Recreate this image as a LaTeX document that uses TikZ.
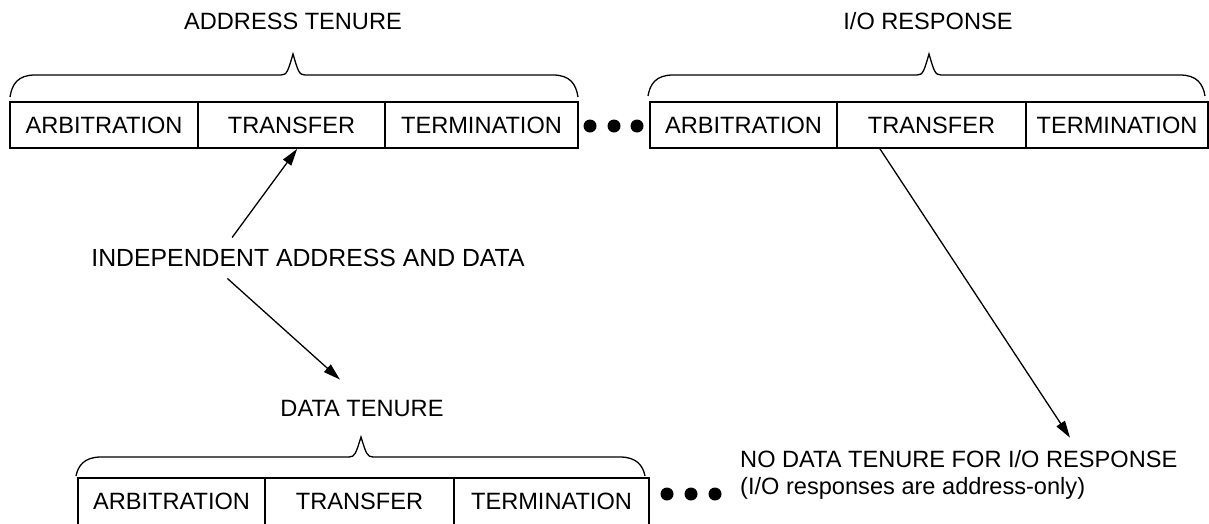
\documentclass[tikz,border=0pt]{standalone}
\usepackage{fontspec}
\setmainfont{Liberation Sans}
\usetikzlibrary{arrows.meta,calc}
\newcommand\tenbrace[6]{%
  \draw[brace] (#1,#4) .. controls ({#1+2},{#5+9}) and ({#1+8},#5) .. ({#1+25},#5)
    -- ({#3-12},#5) .. controls ({#3-6},#5) and ({#3-5},{#5-4}) .. (#3,#6)
    .. controls ({#3+5},{#5-4}) and ({#3+6},#5) .. ({#3+12},#5)
    -- ({#2-25},#5) .. controls ({#2-8},#5) and ({#2-2},{#5+9}) .. (#2,#4);}
\begin{document}
\begin{tikzpicture}[x=1pt,y=-1pt,
  txt/.style={font=\fontsize{23.6}{28}\selectfont},
  cell/.style={txt,draw,line width=1.8pt,minimum height=46pt,inner sep=0pt},
  lbl/.style={txt,inner sep=0pt},
  brace/.style={line width=1.3pt},
  arr/.style={line width=1.3pt,-{Triangle[length=17pt,width=10pt]}},
  dot/.style={circle,fill=black,inner sep=0pt,minimum size=13pt}]
\useasboundingbox (0,0) rectangle (1209,523);
% top left row
\node[cell,minimum width=188pt] (A1) at (104,125) {ARBITRATION};
\node[cell,minimum width=187pt] (T1) at (291.5,125) {TRANSFER};
\node[cell,minimum width=193pt] (E1) at (481.5,125) {TERMINATION};
% top right row
\node[cell,minimum width=187pt] (A2) at (743.5,125) {ARBITRATION};
\node[cell,minimum width=189pt] (T2) at (931.5,125) {TRANSFER};
\node[cell,minimum width=182pt] (E2) at (1117,125) {TERMINATION};
% bottom row
\node[cell,minimum width=187pt,minimum height=47pt] (A3) at (171.5,501.5) {ARBITRATION};
\node[cell,minimum width=189pt,minimum height=47pt] (T3) at (359.5,501.5) {TRANSFER};
\node[cell,minimum width=195pt,minimum height=47pt] (E3) at (551.5,501.5) {TERMINATION};
% dots
\node[dot] (d1) at (590,126) {};
\node[dot] (d2) at (614,126) {};
\node[dot] (d3) at (637,126) {};
\node[dot] (d4) at (667,494) {};
\node[dot] (d5) at (691,494) {};
\node[dot] (d6) at (715,494) {};
% braces
\tenbrace{10}{578}{293}{97}{75}{54}
\tenbrace{648}{1205}{929}{96}{75}{54}
\tenbrace{76}{645}{361}{476}{457}{437}
% labels
\node[lbl,anchor=base] (addrT) at (293,29) {ADDRESS TENURE};
\node[lbl,anchor=base] (ioT) at (928,29) {I/O RESPONSE};
\node[lbl,anchor=base,font=\fontsize{24.8}{28}\selectfont] (indep) at (308,266) {INDEPENDENT ADDRESS AND DATA};
\node[lbl,anchor=base] (dataT) at (362,416) {DATA TENURE};
\node[lbl,anchor=base west] (nod1) at (740,467) {NO DATA TENURE FOR I/O RESPONSE};
\node[lbl,anchor=base west] (nod2) at (740,494) {(I/O responses are address-only)};
% arrows
\draw[arr] ([yshift=11pt]$(indep.north west)!0.325!(indep.north east)$) -- ($(T1.south west)!0.53!(T1.south east)$);
\draw[arr] ([yshift=-12pt]$(indep.south west)!0.314!(indep.south east)$) -- ([shift={(-22pt,20pt)}]dataT.north);
\draw[arr] ($(T2.south west)!0.23!(T2.south east)$) -- ([shift={(330pt,12pt)}]nod1.north west);
\end{tikzpicture}
\end{document}
